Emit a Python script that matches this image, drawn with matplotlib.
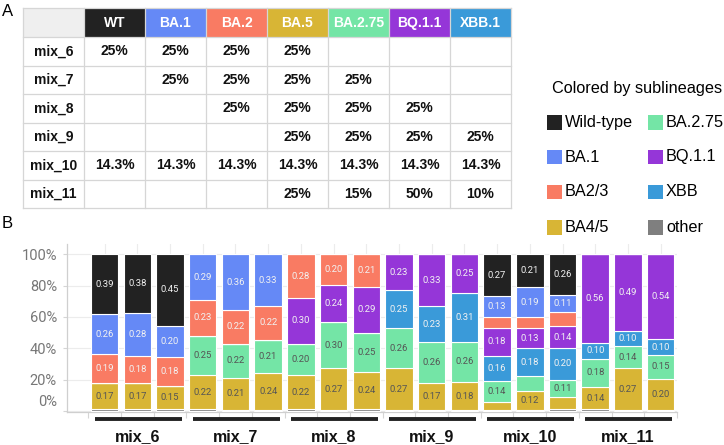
import numpy as np
import matplotlib
matplotlib.use("Agg")
import matplotlib.pyplot as plt
from matplotlib.patches import Rectangle
from matplotlib.transforms import ScaledTranslation, blended_transform_factory

# ---------------- data ----------------
table_cols = ["WT", "BA.1", "BA.2", "BA.5", "BA.2.75", "BQ.1.1", "XBB.1"]
table_rows = ["mix_6", "mix_7", "mix_8", "mix_9", "mix_10", "mix_11"]
table_vals = [
    ["25%", "25%", "25%", "25%", "", "", ""],
    ["", "25%", "25%", "25%", "25%", "", ""],
    ["", "", "25%", "25%", "25%", "25%", ""],
    ["", "", "", "25%", "25%", "25%", "25%"],
    ["14.3%", "14.3%", "14.3%", "14.3%", "14.3%", "14.3%", "14.3%"],
    ["", "", "", "25%", "15%", "50%", "10%"],
]
header_colors = ["#222222", "#6589f6", "#f97b63", "#d8b535", "#74e5a6", "#9536d8", "#3a9ad9"]

groups = ["mix_6", "mix_7", "mix_8", "mix_9", "mix_10", "mix_11"]
reps_per_group = 3

# stacking order from bottom to top
lineages = ["other", "BA4/5", "BA.2.75", "XBB", "BQ.1.1", "BA2/3", "BA.1", "Wild-type"]
lineage_colors = {
    "Wild-type": "#222222", "BA.1": "#6589f6", "BA2/3": "#f97b63", "BA4/5": "#d8b535",
    "BA.2.75": "#74e5a6", "BQ.1.1": "#9536d8", "XBB": "#3a9ad9", "other": "#7f7f7f",
}
dark_text = {"BA4/5", "BA.2.75", "other"}

other = [0.01, 0.01, 0.01, 0.01, 0.005, 0.005, 0.01, 0.005, 0.01,
         0.005, 0.005, 0.005, 0.005, 0.005, 0.01, 0.01, 0.005, 0.005]
ba45 = [0.17, 0.17, 0.15, 0.22, 0.21, 0.24, 0.22, 0.27, 0.24,
        0.27, 0.17, 0.18, 0.05, 0.12, 0.08, 0.14, 0.27, 0.20]
ba275 = [0, 0, 0, 0.25, 0.22, 0.21, 0.20, 0.30, 0.25,
         0.26, 0.26, 0.26, 0.14, 0.095, 0.11, 0.18, 0.14, 0.15]
xbb = [0, 0, 0, 0, 0, 0, 0, 0, 0,
       0.25, 0.23, 0.31, 0.16, 0.18, 0.20, 0.10, 0.10, 0.10]
bq11 = [0, 0, 0, 0, 0, 0, 0.30, 0.24, 0.29,
        0.23, 0.33, 0.25, 0.18, 0.13, 0.14, 0.56, 0.49, 0.54]
ba23 = [0.19, 0.18, 0.18, 0.23, 0.22, 0.22, 0.28, 0.20, 0.21,
        0, 0, 0, 0.07, 0.07, 0.09, 0, 0, 0]
ba1 = [0.26, 0.28, 0.20, 0.29, 0.36, 0.33, 0, 0, 0,
       0, 0, 0, 0.13, 0.19, 0.11, 0, 0, 0]
wt = [0.39, 0.38, 0.45, 0, 0, 0, 0, 0, 0,
      0, 0, 0, 0.27, 0.21, 0.26, 0, 0, 0]

series = {"other": other, "BA4/5": ba45, "BA.2.75": ba275, "XBB": xbb,
          "BQ.1.1": bq11, "BA2/3": ba23, "BA.1": ba1, "Wild-type": wt}

yticks = [0, 0.2, 0.4, 0.6, 0.8, 1.0]
ytick_labels = ["0%", "20%", "40%", "60%", "80%", "100%"]

legend_col1 = ["Wild-type", "BA.1", "BA2/3", "BA4/5"]
legend_col2 = ["BA.2.75", "BQ.1.1", "XBB", "other"]

# ---------------- figure ----------------
W, H = 724, 445
fig = plt.figure(figsize=(W / 100, H / 100), dpi=100)
fig.patch.set_facecolor("white")
bg = fig.add_axes([0, 0, 1, 1])
bg.set_xlim(0, W)
bg.set_ylim(H, 0)
bg.axis("off")

sans = ["Liberation Sans", "DejaVu Sans"]
tfs = 10

# panel letters
bg.text(2, 11, "A", fontsize=12, family=sans, va="center", ha="left")
bg.text(2, 224, "B", fontsize=12, family=sans, va="center", ha="left")

# ---------------- table ----------------
tx0, col_w = 23, 61
row_edges = [8, 37, 65.5, 94, 122.5, 151, 179.5, 208]
grid_c = "#d6d6d6"
# header
bg.add_patch(Rectangle((tx0, row_edges[0]), col_w, row_edges[1] - row_edges[0],
                       facecolor="#efefef", edgecolor="none"))
for j, (c, col) in enumerate(zip(table_cols, header_colors)):
    x = tx0 + col_w * (j + 1)
    bg.add_patch(Rectangle((x, row_edges[0]), col_w, row_edges[1] - row_edges[0],
                           facecolor=col, edgecolor="none"))
    bg.text(x + col_w / 2, (row_edges[0] + row_edges[1]) / 2 + 0.5, c, color="white",
            fontsize=tfs, fontweight="bold", family=sans, ha="center", va="center")
for i, (rname, vals) in enumerate(zip(table_rows, table_vals)):
    yc = (row_edges[i + 1] + row_edges[i + 2]) / 2
    bg.text(tx0 + col_w / 2, yc, rname, fontsize=tfs, fontweight="bold", family=sans,
            ha="center", va="center", color="#111111")
    for j, v in enumerate(vals):
        if v:
            bg.text(tx0 + col_w * (j + 1.5), yc, v, fontsize=tfs, fontweight="bold",
                    family=sans, ha="center", va="center", color="#111111")
# grid lines
ncols = len(table_cols) + 1
for k in range(ncols + 1):
    x = tx0 + col_w * k
    bg.plot([x, x], [row_edges[0], row_edges[-1]], color=grid_c, lw=0.9, zorder=3)
for y in row_edges:
    bg.plot([tx0, tx0 + col_w * ncols], [y, y], color=grid_c, lw=0.9, zorder=3)

# ---------------- legend ----------------
bg.text(552, 88, "Colored by sublineages", fontsize=11.7, family=sans, ha="left", va="center")
leg_y = [122, 156.5, 191.5, 227]
for col_items, sx in ((legend_col1, 547), (legend_col2, 648)):
    for name, y in zip(col_items, leg_y):
        bg.add_patch(Rectangle((sx, y - 7), 14.5, 14.5, facecolor=lineage_colors[name],
                               edgecolor="none"))
        bg.text(sx + 18, y + 0.5, name, fontsize=11.7, family=sans, ha="left", va="center")

# ---------------- stacked bars ----------------
ax_l, ax_r, ax_t, ax_b = 66.7, 677, 244, 411.7
ax = fig.add_axes([ax_l / W, (H - ax_b) / H, (ax_r - ax_l) / W, (ax_b - ax_t) / H])
nbars = len(groups) * reps_per_group
x = np.arange(nbars)
totals = np.sum([series[k] for k in lineages], axis=0)
bottom = np.zeros(nbars)
bw = 0.84
for name in lineages:
    raw = np.array(series[name], dtype=float)
    h = raw / totals
    ax.bar(x, h, bottom=bottom, width=bw, color=lineage_colors[name],
           edgecolor="white", linewidth=0.8, zorder=3)
    for xi, r, hh, b in zip(x, raw, h, bottom):
        if r >= 0.1:
            ax.text(xi, b + hh / 2, f"{r:.2f}", ha="center", va="center",
                    fontsize=6.8, family=["Roboto", "DejaVu Sans"],
                    color="#555555" if name in dark_text else "#f2f2f2", zorder=4)
    bottom += h

ax.set_xlim(-1.16, 17.5)
ax.set_ylim(-0.005, 1.066)
for s in ("top", "right"):
    ax.spines[s].set_visible(False)
for s in ("left", "bottom"):
    ax.spines[s].set_color("#cfcfcf")
    ax.spines[s].set_linewidth(0.9)

ax.set_yticks(yticks)
ax.set_yticklabels(ytick_labels, fontsize=10.5, family=["Roboto", "DejaVu Sans"], color="#777777")
ax.tick_params(axis="y", length=3, color="#d5d5d5", pad=4)
lbl0 = ax.get_yticklabels()[0]
lbl0.set_transform(lbl0.get_transform() + ScaledTranslation(0, 0.10, fig.dpi_scale_trans))

ax.set_xticks(np.arange(nbars + 1) - 0.5)
ax.set_xticklabels([])
ax.tick_params(axis="x", length=4, color="#d5d5d5")
ax.set_xticks(x, minor=True)
ax.tick_params(axis="x", which="minor", length=0)
ax.grid(axis="y", which="major", color="#ececec", lw=0.8, zorder=0)
ax.grid(axis="x", which="minor", color="#ececec", lw=0.8, zorder=0)
ax.set_axisbelow(True)

trans = blended_transform_factory(ax.transData, ax.transAxes)
axh = ax_b - ax_t
for g, name in enumerate(groups):
    g0 = g * reps_per_group
    ax.plot([g0 - 0.3, g0 + 2.36], [-7.3 / axh, -7.3 / axh], color="#222222", lw=2.8,
            solid_capstyle="butt", transform=trans, clip_on=False)
    ax.text(g0 + 1, -24.5 / axh, name, transform=trans, ha="center", va="center",
            fontsize=11.5, fontweight="bold", family=sans, color="#111111")

fig.savefig("out.png", dpi=100, facecolor="white")
